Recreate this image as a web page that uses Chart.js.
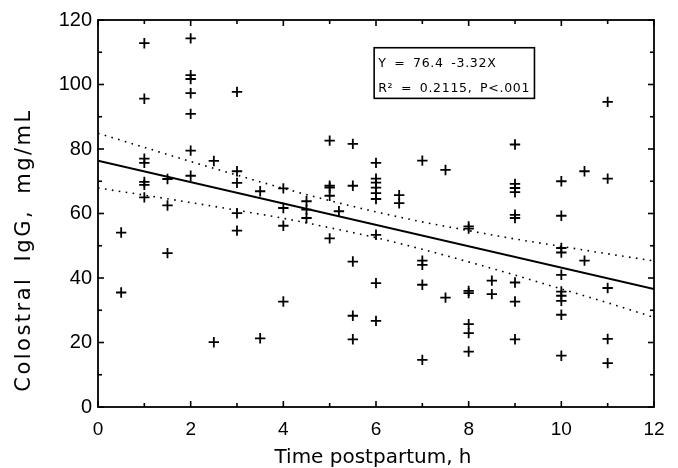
<!DOCTYPE html>
<html><head><meta charset="utf-8">
<script src="https://cdn.jsdelivr.net/npm/chart.js@4.4.1/dist/chart.umd.min.js"></script>
<style>html,body{margin:0;padding:0;background:#fff}#wrap{width:678px;height:468px}</style>
</head><body><div id="wrap"><canvas id="c" width="678" height="468"></canvas></div>
<script>
// ---- data ----
const timeH = [
  0.5, 0.5,
  1, 1, 1, 1, 1, 1, 1,
  1.5, 1.5, 1.5,
  2, 2, 2, 2, 2, 2, 2,
  2.5, 2.5,
  3, 3, 3, 3, 3,
  3.5, 3.5,
  4, 4, 4, 4,
  4.5, 4.5, 4.5,
  5, 5, 5, 5, 5,
  5.2,
  5.5, 5.5, 5.5, 5.5, 5.5,
  6, 6, 6, 6, 6, 6, 6, 6, 6,
  6.5, 6.5,
  7, 7, 7, 7, 7,
  7.5, 7.5,
  8, 8, 8, 8, 8, 8, 8,
  8.5, 8.5,
  9, 9, 9, 9, 9, 9, 9, 9, 9,
  10, 10, 10, 10, 10, 10, 10, 10, 10, 10,
  10.5, 10.5,
  11, 11, 11, 11, 11
];
const iggValues = [
  54.1, 35.5,
  112.8, 95.6, 77.0, 75.7, 69.8, 68.9, 65.0,
  70.7, 62.5, 47.7,
  114.3, 102.9, 101.7, 97.3, 90.9, 79.5, 71.7,
  76.3, 20.1,
  97.7, 73.1, 69.5, 60.1, 54.7,
  66.9, 21.3,
  67.8, 61.7, 56.2, 32.7,
  63.8, 61.2, 58.6,
  82.6, 68.6, 68.0, 65.5, 52.3,
  60.7,
  81.6, 68.6, 45.1, 28.3, 21.0,
  75.7, 70.8, 69.6, 68.0, 66.3, 64.5, 53.4, 38.4, 26.7,
  65.7, 63.2,
  76.4, 45.4, 44.1, 37.9, 14.6,
  73.5, 33.9,
  56.0, 55.3, 36.0, 35.3, 25.7, 22.9, 17.2,
  39.2, 35.0,
  81.4, 69.2, 67.9, 66.6, 59.6, 58.6, 38.6, 32.7, 21.0,
  70.0, 59.3, 49.3, 47.9, 41.0, 35.8, 34.5, 32.9, 28.6, 15.9,
  73.1, 45.4,
  94.6, 70.8, 36.9, 21.1, 13.6
];
const fitX = [0, 12];
const fitY = [76.4, 36.56];
const bandX = [0, 1, 2, 3, 4, 5, 6, 7, 8, 9, 10, 11, 12];
const bandUpper = [84.9, 80.5, 76.1, 71.9, 67.8, 64.0, 60.5, 57.4, 54.7, 52.1, 49.8, 47.5, 45.3];
const bandLower = [67.9, 65.7, 63.4, 61.0, 58.5, 55.6, 52.5, 48.9, 45.0, 40.9, 36.6, 32.3, 27.8];
const xTickValues = [0, 2, 4, 6, 8, 10, 12];
const yTickValues = [0, 20, 40, 60, 80, 100, 120];
const equationLines = ['Y = 76.4 -3.32X', 'R\u00B2 = 0.2115, P<.001'];
const xTitle = 'Time postpartum, h';
const yTitle = 'Colostral IgG, mg/mL';

// ---- build library structures ----
const pts = timeH.map((t, i) => ({x: t, y: iggValues[i]}));
const fitPts = fitX.map((t, i) => ({x: t, y: fitY[i]}));
const upPts = bandX.map((t, i) => ({x: t, y: bandUpper[i]}));
const loPts = bandX.map((t, i) => ({x: t, y: bandLower[i]}));

const SANS = '"DejaVu Sans", sans-serif';
const TICKFONT = '"Liberation Sans", Arial, sans-serif';

const frame = {
  id: 'frame',
  beforeDatasetsDraw(chart) {
    const {ctx, chartArea: a, scales: {x, y}} = chart;
    ctx.save();
    ctx.strokeStyle = '#000';
    ctx.lineWidth = 1.6;
    const seg = (x1, y1, x2, y2) => { ctx.beginPath(); ctx.moveTo(x1, y1); ctx.lineTo(x2, y2); ctx.stroke(); };
    for (let v = 0; v <= 12; v += 1) {
      const px = x.getPixelForValue(v);
      const L = v % 2 === 0 ? 6 : 4;
      seg(px, a.bottom, px, a.bottom - L);
      seg(px, a.top, px, a.top + L);
    }
    for (let v = 0; v <= 120; v += 10) {
      const py = y.getPixelForValue(v);
      const L = v % 20 === 0 ? 6 : 4;
      seg(a.left, py, a.left + L, py);
      seg(a.right, py, a.right - L, py);
    }
    ctx.lineWidth = 1.8;
    ctx.strokeRect(a.left, a.top, a.right - a.left, a.bottom - a.top);
    ctx.restore();
  }
};

const texts = {
  id: 'texts',
  afterDatasetsDraw(chart) {
    const {ctx, scales: {x, y}} = chart;
    // equation box
    const l = x.getPixelForValue(5.96), r = x.getPixelForValue(9.42);
    const t = y.getPixelForValue(111.4), b = y.getPixelForValue(95.7);
    ctx.save();
    ctx.fillStyle = '#fff';
    ctx.fillRect(l, t, r - l, b - t);
    ctx.strokeStyle = '#000';
    ctx.lineWidth = 1.6;
    ctx.strokeRect(l, t, r - l, b - t);
    ctx.fillStyle = '#000';
    ctx.font = '12.5px ' + SANS;
    if ('letterSpacing' in ctx) ctx.letterSpacing = '0.7px';
    if ('wordSpacing' in ctx) ctx.wordSpacing = '3px';
    ctx.textBaseline = 'alphabetic';
    ctx.textAlign = 'left';
    ctx.fillText(equationLines[0], l + 4, t + 19);
    ctx.fillText(equationLines[1], l + 4, t + 44);
    ctx.restore();
    // x axis title
    ctx.save();
    ctx.fillStyle = '#000';
    ctx.font = '20px ' + SANS;
    ctx.textAlign = 'center';
    ctx.textBaseline = 'alphabetic';
    ctx.fillText(xTitle, (x.left + x.right) / 2 - 3, 463);
    ctx.restore();
    // y axis title
    ctx.save();
    ctx.fillStyle = '#000';
    ctx.font = '21px ' + SANS;
    if ('letterSpacing' in ctx) ctx.letterSpacing = '2.5px';
    if ('wordSpacing' in ctx) ctx.wordSpacing = '6px';
    ctx.textAlign = 'center';
    ctx.textBaseline = 'middle';
    ctx.translate(25, 250);
    ctx.rotate(-Math.PI / 2);
    ctx.fillText(yTitle, 0, 0);
    ctx.restore();
  }
};

new Chart(document.getElementById('c'), {
  type: 'scatter',
  data: {
    datasets: [
      {label: 'IgG', data: pts, showLine: false, pointStyle: 'cross', pointRadius: 5.2,
       pointBorderWidth: 1.8, borderColor: '#000', backgroundColor: '#000', pointHoverRadius: 5.2},
      {label: 'fit', type: 'line', data: fitPts, borderColor: '#000', borderWidth: 2,
       pointRadius: 0, fill: false},
      {label: 'upper', type: 'line', data: upPts, borderColor: '#000', borderWidth: 1.6,
       borderDash: [1.6, 5.4], pointRadius: 0, fill: false, cubicInterpolationMode: 'monotone'},
      {label: 'lower', type: 'line', data: loPts, borderColor: '#000', borderWidth: 1.6,
       borderDash: [1.6, 5.4], pointRadius: 0, fill: false, cubicInterpolationMode: 'monotone'}
    ]
  },
  options: {
    responsive: false,
    animation: false,
    devicePixelRatio: 1,
    layout: {padding: {left: 0, top: 20, right: 24, bottom: 0}},
    plugins: {legend: {display: false}, tooltip: {enabled: false}},
    scales: {
      x: {
        type: 'linear', min: 0, max: 12,
        afterBuildTicks: s => { s.ticks = xTickValues.map(v => ({value: v})); },
        afterFit: s => { s.height = 61; },
        grid: {display: true, drawOnChartArea: false, drawTicks: false},
        border: {display: false},
        ticks: {color: '#000', font: {family: TICKFONT, size: 19}, padding: 11, maxRotation: 0},
        title: {display: false, text: xTitle}
      },
      y: {
        type: 'linear', min: 0, max: 120,
        afterBuildTicks: s => { s.ticks = yTickValues.map(v => ({value: v})); },
        afterFit: s => { s.width = 98; },
        grid: {display: true, drawOnChartArea: false, drawTicks: false},
        border: {display: false},
        ticks: {color: '#000', font: {family: TICKFONT, size: 20}, padding: 6},
        title: {display: false, text: yTitle}
      }
    }
  },
  plugins: [frame, texts]
});
</script>
</body></html>
